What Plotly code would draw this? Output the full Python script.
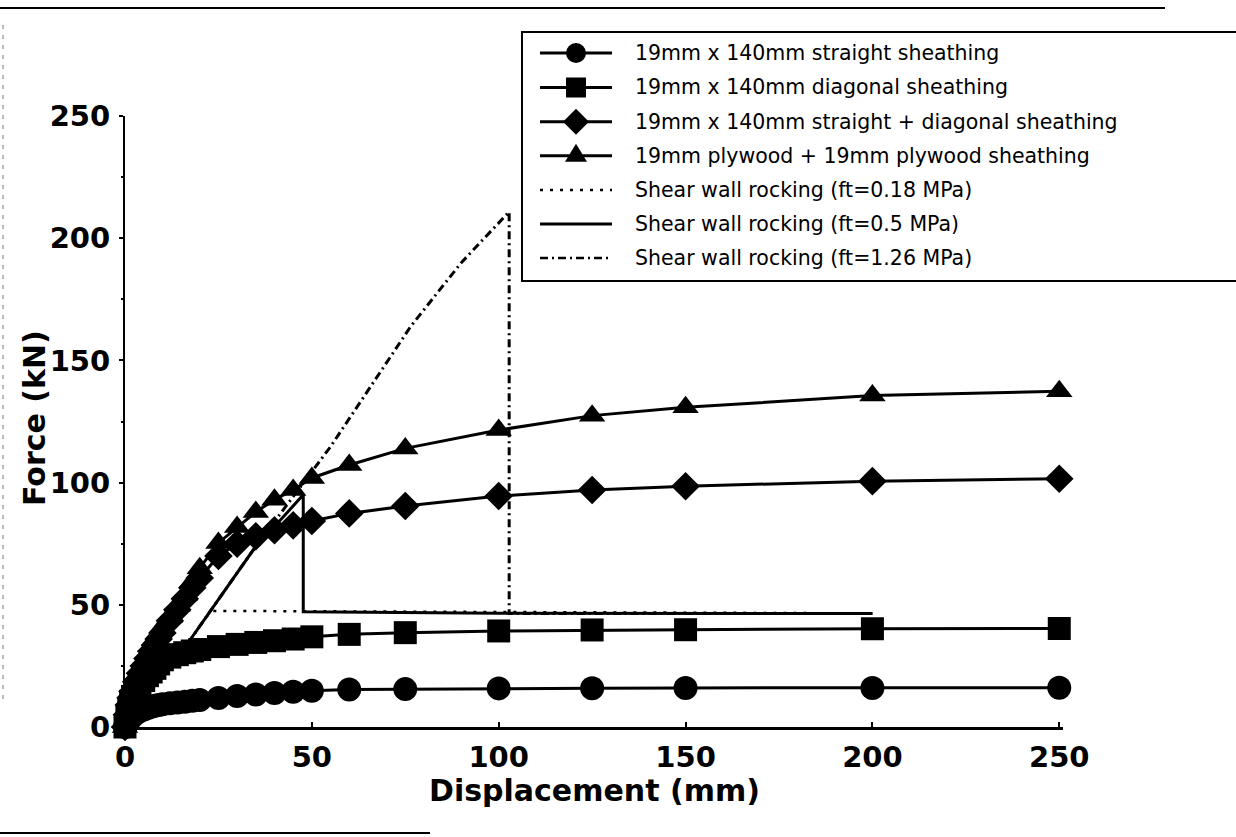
import plotly.graph_objects as go

# ---- data -----------------------------------------------------------------
# displacement steps (mm)
disp = [0, 0.5, 1, 1.5, 2, 3, 4, 5, 6, 7, 8, 9, 10, 12, 14, 16, 18, 20,
        25, 30, 35, 40, 45, 50, 60, 75, 100, 125, 150, 200, 250]

# force (kN) for each sheathing configuration
force_straight = [0, 1.5, 2.7, 3.6, 4.4, 5.6, 6.5, 7.2, 7.8, 8.3, 8.7, 9.0, 9.3,
                  9.7, 10.0, 10.3, 10.7, 11.0, 11.9, 12.7, 13.3, 13.9, 14.4, 14.8,
                  15.3, 15.5, 15.8, 15.9, 16.0, 16.0, 16.1]
force_diagonal = [0, 4, 7.5, 10.5, 12.5, 15, 17, 19, 21, 22.5, 24, 25.8, 27.5,
                  28.6, 29.6, 30.4, 31.1, 31.7, 32.9, 33.8, 34.6, 35.3, 36.0, 36.9,
                  37.9, 38.6, 39.3, 39.7, 39.8, 40.2, 40.3]
force_combined = [0, 5, 9, 12, 14.5, 18.5, 22, 25, 28, 31, 33.5, 36, 38.5,
                  43.5, 48, 52.5, 57, 61, 70, 75, 78, 80.5, 82.5, 84.3,
                  87.4, 90.4, 94.5, 97.0, 98.5, 100.6, 101.6]
force_plywood = [0, 6, 11, 14, 17, 21, 24, 27, 30, 33, 36, 38.5, 41,
                 45, 49.5, 54, 59.5, 65, 75.3, 81.8, 88, 93, 97, 101.9,
                 107.2, 114, 121.5, 127.4, 130.8, 135.6, 137.4]

# shear wall rocking envelopes
rock_018_x = [0, 4, 17.4, 23, 200]
rock_018_y = [0, 17, 35.6, 47.5, 46.5]
rock_050_x = [0, 4, 17.4, 34.3, 47.7, 47.7, 100, 200]
rock_050_y = [0, 17, 35.6, 72.4, 95, 47.2, 46.5, 46.4]
rock_126_x = [0, 4, 17.4, 34.3, 55, 65, 76.5, 90, 102.8, 102.8, 200]
rock_126_y = [0, 17, 35.6, 72.4, 114.7, 137.5, 164, 190, 210.8, 46.4, 46.4]

legend_labels = [
    "19mm x 140mm straight sheathing",
    "19mm x 140mm diagonal sheathing",
    "19mm x 140mm straight + diagonal sheathing",
    "19mm plywood + 19mm plywood sheathing",
    "Shear wall rocking (ft=0.18 MPa)",
    "Shear wall rocking (ft=0.5 MPa)",
    "Shear wall rocking (ft=1.26 MPa)",
]

x_ticks = [0, 50, 100, 150, 200, 250]
y_ticks = [0, 50, 100, 150, 200, 250]

# ---- layout geometry (pixels) ----------------------------------------------
W, H = 1236, 837
PLOT_L, PLOT_R, PLOT_T, PLOT_B = 125, 1063, 116, 727
PLOT_W, PLOT_H = PLOT_R - PLOT_L, PLOT_B - PLOT_T


def px_x(p):
    return (p - PLOT_L) / PLOT_W


def px_y(p):
    return (PLOT_B - p) / PLOT_H


AX_FONT = dict(family="DejaVu Sans", size=29, color="black", weight="bold")
TITLE_FONT = dict(family="DejaVu Sans", size=30, color="black", weight="bold")
LEG_FONT = dict(family="DejaVu Sans", size=20.5, color="black")

DOT = "3px,7px"
DASHDOT = "8px,4px,2px,4px"

fig = go.Figure()

# sheathing curves
series = [
    (force_straight, "circle", 24),
    (force_diagonal, "square", 23),
    (force_combined, "diamond", 22),
    (force_plywood, "triangle-up", 23),
]
for ys, sym, size in series:
    fig.add_trace(go.Scatter(
        x=disp, y=ys, mode="lines+markers",
        line=dict(color="black", width=3),
        marker=dict(symbol=sym, size=size, color="black", line=dict(width=0)),
        cliponaxis=False, showlegend=False,
    ))

# rocking envelopes
for xs, ys, dash, w in [(rock_018_x, rock_018_y, DOT, 2.5),
                        (rock_050_x, rock_050_y, "solid", 3),
                        (rock_126_x, rock_126_y, DASHDOT, 3)]:
    fig.add_trace(go.Scatter(
        x=xs, y=ys, mode="lines",
        line=dict(color="black", width=w, dash=dash),
        cliponaxis=False, showlegend=False,
    ))

# ---- hand-built legend box -------------------------------------------------
shapes = []
annotations = []

shapes.append(dict(type="rect", xref="paper", yref="paper",
                   x0=px_x(522), x1=px_x(1250), y0=px_y(281), y1=px_y(32),
                   line=dict(color="black", width=2), fillcolor="white",
                   layer="above"))

row_y = [53, 87.5, 121.7, 155.8, 190, 224, 258]
sym_cx = 576


def pix_shape(kind, cx, cy, **kw):
    d = dict(type=kind, xref="paper", yref="paper",
             xsizemode="pixel", ysizemode="pixel",
             xanchor=px_x(cx), yanchor=px_y(cy),
             fillcolor="black", line=dict(width=0), layer="above")
    d.update(kw)
    return d


for i, (label, ry) in enumerate(zip(legend_labels, row_y)):
    if i < 4:
        dash, lw = "solid", 3
    elif i == 4:
        dash, lw = DOT, 2.5
    elif i == 5:
        dash, lw = "solid", 3
    else:
        dash, lw = DASHDOT, 2.5
    shapes.append(dict(type="line", xref="paper", yref="paper",
                       x0=px_x(540), x1=px_x(612), y0=px_y(ry), y1=px_y(ry),
                       line=dict(color="black", width=lw, dash=dash),
                       layer="above"))
    if i == 0:
        shapes.append(pix_shape("circle", sym_cx, ry, x0=-10, x1=10, y0=-10, y1=10))
    elif i == 1:
        shapes.append(pix_shape("rect", sym_cx, ry, x0=-10, x1=10, y0=-10, y1=10))
    elif i == 2:
        shapes.append(pix_shape("path", sym_cx, ry,
                                path="M-13,0 L0,13 L13,0 L0,-13 Z"))
    elif i == 3:
        shapes.append(pix_shape("path", sym_cx, ry,
                                path="M-11,-6 L11,-6 L0,12 Z"))
    annotations.append(dict(text=label, xref="paper", yref="paper",
                            x=px_x(633), y=px_y(ry), xanchor="left",
                            yanchor="middle", showarrow=False, font=LEG_FONT))

# axis titles
annotations.append(dict(text="Displacement (mm)", xref="paper", yref="paper",
                        x=px_x(594), y=px_y(790), xanchor="center",
                        yanchor="middle", showarrow=False, font=TITLE_FONT))
annotations.append(dict(text="Force (kN)", xref="paper", yref="paper",
                        x=px_x(35), y=px_y(418), xanchor="center",
                        yanchor="middle", textangle=-90, showarrow=False,
                        font=TITLE_FONT))

# page edge rules
shapes.append(dict(type="line", xref="paper", yref="paper",
                   x0=px_x(0), x1=px_x(1165), y0=px_y(8), y1=px_y(8),
                   line=dict(color="black", width=2)))
shapes.append(dict(type="line", xref="paper", yref="paper",
                   x0=px_x(0), x1=px_x(430), y0=px_y(833), y1=px_y(833),
                   line=dict(color="black", width=2)))
shapes.append(dict(type="line", xref="paper", yref="paper",
                   x0=px_x(3), x1=px_x(3), y0=px_y(25), y1=px_y(700),
                   line=dict(color="#777777", width=1, dash="4px,6px")))

fig.update_layout(
    width=W, height=H,
    margin=dict(l=PLOT_L, r=W - PLOT_R, t=PLOT_T, b=H - PLOT_B, pad=0),
    paper_bgcolor="white", plot_bgcolor="white",
    showlegend=False,
    shapes=shapes, annotations=annotations,
    xaxis=dict(range=[0, 251], tickvals=x_ticks, ticktext=[str(v) for v in x_ticks],
               showline=True, linecolor="black", linewidth=3,
               ticks="inside", ticklen=5, tickwidth=1.5, tickcolor="black",
               showgrid=False, zeroline=False, tickfont=AX_FONT,
               ticklabelstandoff=2),
    yaxis=dict(range=[0, 250], tickvals=y_ticks, ticktext=[str(v) for v in y_ticks],
               showline=True, linecolor="black", linewidth=2,
               ticks="outside", ticklen=4, tickwidth=1.5, tickcolor="black",
               minor=dict(tickvals=[25, 75, 125, 175, 225], ticks="outside",
                          ticklen=2, tickcolor="black"),
               showgrid=False, zeroline=False, tickfont=AX_FONT,
               ticklabelstandoff=3),
)

fig.write_html("out.html")
